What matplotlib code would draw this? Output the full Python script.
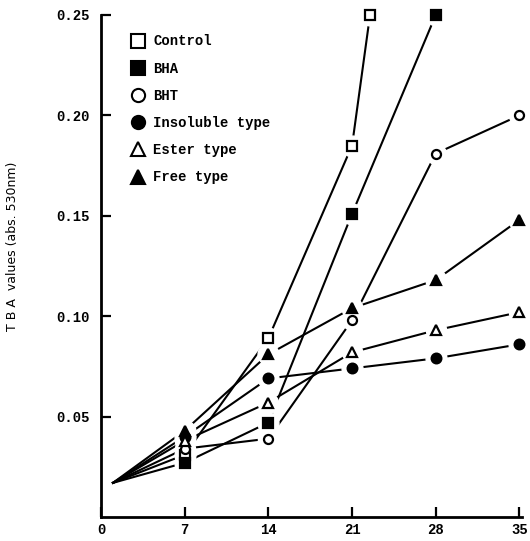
import matplotlib
matplotlib.use("Agg")
import matplotlib.pyplot as plt
from matplotlib.lines import Line2D

# storage days
days = [1, 7, 14, 21, 28, 35]
control_days = [1, 7, 14, 21, 22.5]
bha_days = [1, 7, 14, 21, 28]

# TBA values (abs. 530nm)
control = [0.017, 0.031, 0.089, 0.185, 0.250]
bha = [0.017, 0.027, 0.047, 0.151, 0.250]
bht = [0.017, 0.034, 0.039, 0.098, 0.181, 0.200]
insoluble = [0.017, 0.040, 0.069, 0.074, 0.079, 0.086]
ester = [0.017, 0.038, 0.057, 0.082, 0.093, 0.102]
free = [0.017, 0.043, 0.081, 0.104, 0.118, 0.148]

labels = ["Control", "BHA", "BHT", "Insoluble type", "Ester type", "Free type"]
markers = ["s", "s", "o", "o", "^", "^"]
filled = [False, True, False, True, False, True]
sizes = [7, 7, 6.5, 7, 6.5, 7]
series = [(control_days, control), (bha_days, bha), (days, bht),
          (days, insoluble), (days, ester), (days, free)]

mono = "Liberation Mono"

fig = plt.figure(figsize=(5.3, 5.41), dpi=100)
ax = fig.add_axes([0.1906, 0.0444, 0.794, 0.9279])

for (xs, ys), m, f, s in zip(series, markers, filled, sizes):
    ax.plot(xs, ys, color="black", lw=1.5, zorder=1, clip_on=False)
    # white halo so the lines stop short of the markers, like the original
    ax.plot(xs[1:], ys[1:], ls="none", marker="o", ms=s + 8, mfc="white",
            mec="white", zorder=2, clip_on=False)
    ax.plot(xs[1:], ys[1:], ls="none", marker=m, ms=s,
            mfc="black" if f else "white", mec="black", mew=1.6,
            zorder=3, clip_on=False)

ax.set_xlim(0, 35.2)
ax.set_ylim(0, 0.25)
ax.set_xticks([0, 7, 14, 21, 28, 35])
ax.set_yticks([0.05, 0.10, 0.15, 0.20, 0.25])
ax.set_yticklabels(["0.05", "0.10", "0.15", "0.20", "0.25"])
ax.spines["top"].set_visible(False)
ax.spines["right"].set_visible(False)
ax.spines["left"].set_linewidth(2)
ax.spines["bottom"].set_linewidth(2)
ax.tick_params(direction="in", length=7, width=1.6, labelsize=10)
ax.tick_params(axis="x", pad=4)
ax.tick_params(axis="y", pad=8)
for lab in ax.get_xticklabels() + ax.get_yticklabels():
    lab.set_family(mono)
    lab.set_fontweight("bold")

ax.set_ylabel("T B A  values (abs. 530nm)", fontsize=9, family="DejaVu Sans")
ax.yaxis.set_label_coords(-0.195, 0.54)

handles = [Line2D([], [], ls="none", marker=m, ms=9.5,
                  mfc="black" if f else "white", mec="black", mew=1.5)
           for m, f in zip(markers, filled)]
leg = ax.legend(handles, labels, loc="upper left", bbox_to_anchor=(0.055, 0.975),
                frameon=False, handlelength=1.0, handletextpad=0.6,
                labelspacing=0.95, borderpad=0,
                prop={"family": mono, "weight": "bold", "size": 10})

fig.savefig("out.png", dpi=100)
